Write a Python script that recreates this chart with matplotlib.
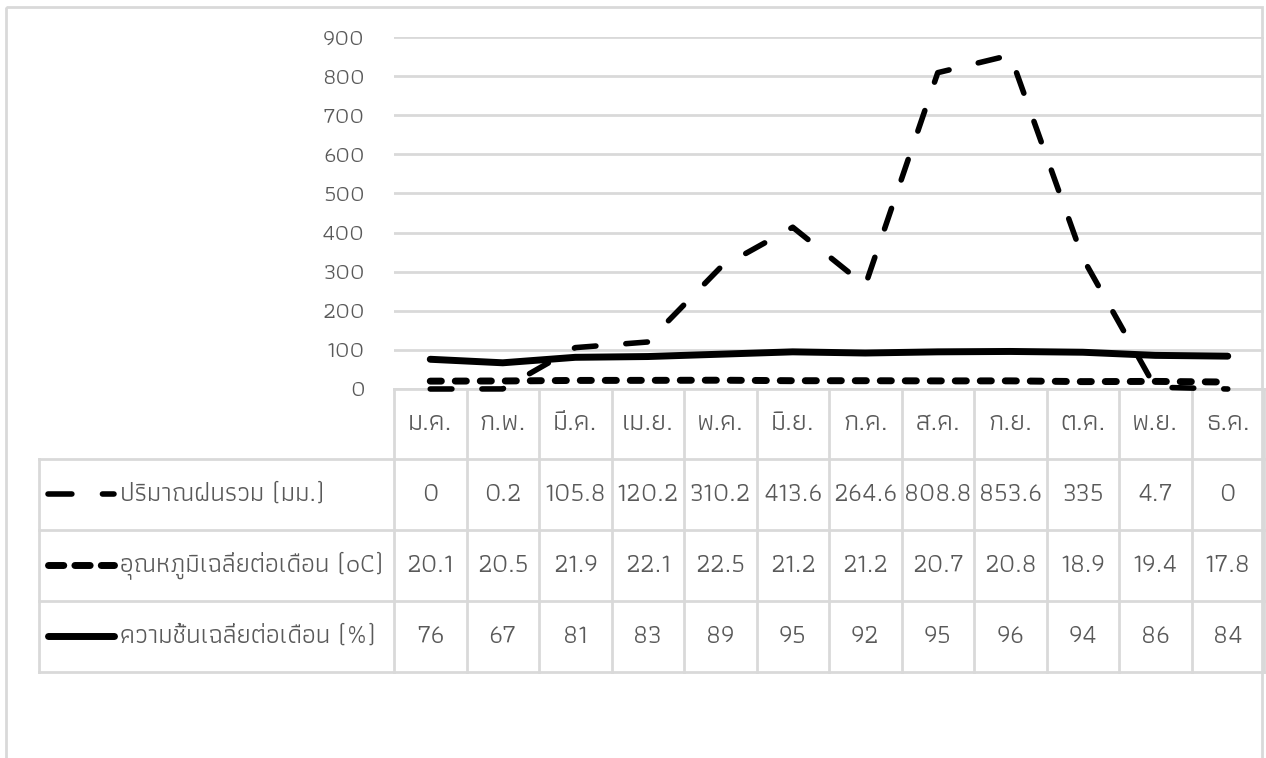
import matplotlib
matplotlib.use("Agg")
import matplotlib.pyplot as plt
from matplotlib.patches import Rectangle

months = ["ม.ค.", "ก.พ.", "มี.ค.", "เม.ย.", "พ.ค.", "มิ.ย.", "ก.ค.", "ส.ค.", "ก.ย.", "ต.ค.", "พ.ย.", "ธ.ค."]
rain = [0, 0.2, 105.8, 120.2, 310.2, 413.6, 264.6, 808.8, 853.6, 335, 4.7, 0]
temp = [20.1, 20.5, 21.9, 22.1, 22.5, 21.2, 21.2, 20.7, 20.8, 18.9, 19.4, 17.8]
humid = [76, 67, 81, 83, 89, 95, 92, 95, 96, 94, 86, 84]
rain_labels = ["0", "0.2", "105.8", "120.2", "310.2", "413.6", "264.6", "808.8", "853.6", "335", "4.7", "0"]
series_names = ["ปริมาณฝนรวม (มม.)", "อุณหภูมิเฉลี่ยต่อเดือน (๐C)", "ความชื้นเฉลี่ยต่อเดือน (%)"]
yticks = [0, 100, 200, 300, 400, 500, 600, 700, 800, 900]

FONT = ["Athiti", "DejaVu Sans"]
TXT = "#595959"
GRID = "#d9d9d9"

W, H = 1266, 758
fig = plt.figure(figsize=(W / 100, H / 100), dpi=100)

# background / table axes in pixel coordinates
bg = fig.add_axes([0, 0, 1, 1])
bg.set_xlim(0, W)
bg.set_ylim(H, 0)
bg.axis("off")
bg.add_patch(Rectangle((6, 7), 1256, 760, fill=False, ec=GRID, lw=2))

x0, x1 = 394, 1264
y_top, y_bot = 37, 389
colw = (x1 - x0) / len(months)

ax = fig.add_axes([x0 / W, 1 - y_bot / H, (x1 - x0) / W, (y_bot - y_top) / H])
ax.set_xlim(-0.5, len(months) - 0.5)
ax.set_ylim(0, 900)
ax.set_yticks(yticks)
ax.set_xticks([])
for s in ax.spines.values():
    s.set_visible(False)
ax.grid(axis="y", color=GRID, lw=2)
ax.set_axisbelow(True)
ax.tick_params(axis="y", length=0, pad=21, labelcolor=TXT, labelsize=17)
for lab in ax.get_yticklabels():
    lab.set_family(FONT)
ax.patch.set_alpha(0)

xs = list(range(len(months)))
l1, = ax.plot(xs, rain, color="black", lw=4.0, dash_capstyle="round")
l1.set_dashes([3.9, 5.4])
l2, = ax.plot(xs, temp, color="black", lw=5.0, dash_capstyle="round")
l2.set_dashes([1.6, 2.0])
l3, = ax.plot(xs, humid, color="black", lw=5.0, solid_capstyle="round")
for l in (l1, l2, l3):
    l.set_clip_on(False)

# table
row_edges = [389, 459, 530, 601, 672]
tl = 39
bg.plot([x0, x1], [row_edges[0], row_edges[0]], color=GRID, lw=2)
for y in row_edges[1:]:
    bg.plot([tl, x1], [y, y], color=GRID, lw=2)
for i in range(len(months) + 1):
    x = x0 + i * colw
    bg.plot([x, x], [row_edges[0], row_edges[-1]], color=GRID, lw=2)
bg.plot([tl, tl], [row_edges[1], row_edges[-1]], color=GRID, lw=2)

fs = 19
for i, m in enumerate(months):
    bg.text(x0 + (i + 0.5) * colw, (row_edges[0] + row_edges[1]) / 2, m, ha="center", va="center",
            fontsize=20, color=TXT, family=FONT)

rows = [rain_labels, [f"{v:.1f}" for v in temp], [str(v) for v in humid]]
for r, vals in enumerate(rows):
    yc = (row_edges[r + 1] + row_edges[r + 2]) / 2
    for i, v in enumerate(vals):
        bg.text(x0 + (i + 0.5) * colw, yc, v, ha="center", va="center", fontsize=fs,
                color=TXT, family=FONT)
    bg.text(120, yc, series_names[r], ha="left", va="center", fontsize=fs, color=TXT, family=FONT)

# legend keys
k1, = bg.plot([48, 114], [494, 494], color="black", lw=4.0, dash_capstyle="round")
k1.set_dashes([4.3, 5.5])
k2, = bg.plot([48, 114], [565, 565], color="black", lw=5.0, dash_capstyle="round")
k2.set_dashes([2.2, 1.6])
bg.plot([48, 114], [636, 636], color="black", lw=5.0, solid_capstyle="round")

fig.savefig("out.png", dpi=100)
